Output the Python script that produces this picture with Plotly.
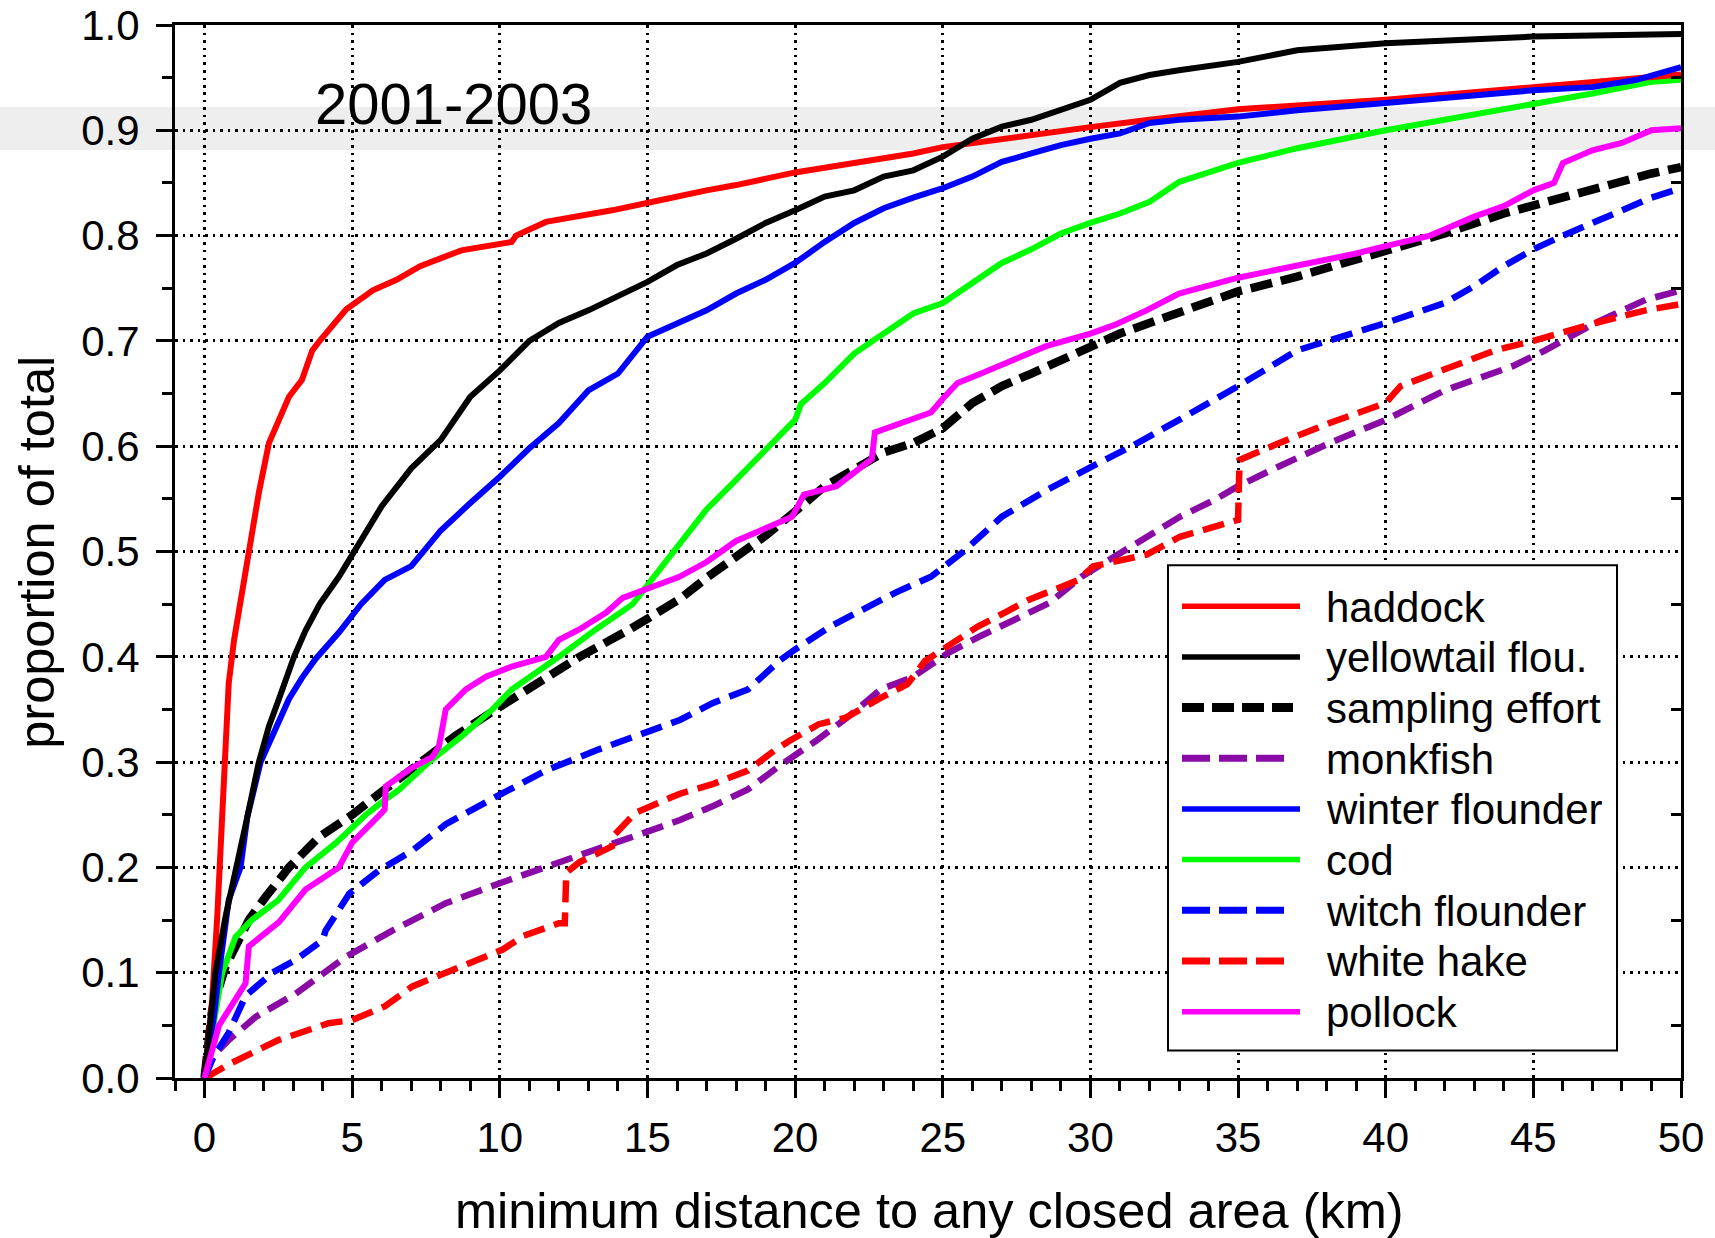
import plotly.graph_objects as go

# ---------------- data ----------------
haddock_x = [0, 0.26, 0.43, 0.54, 0.66, 0.82, 1.0, 1.22, 1.5, 1.84, 2.18, 2.58, 2.86, 3.3, 3.65, 3.9, 4.3, 4.8, 5.7, 6.5, 7.3, 8.7, 10.4, 10.55, 11.56, 13.8, 15.5, 16.1, 17, 18, 19, 20, 22, 24, 25, 26, 28, 30, 32, 35, 40, 45, 47, 50]
haddock_y = [0, 0.075, 0.153, 0.217, 0.305, 0.375, 0.416, 0.454, 0.505, 0.556, 0.603, 0.628, 0.647, 0.663, 0.691, 0.70, 0.714, 0.73, 0.748, 0.758, 0.771, 0.786, 0.794, 0.80, 0.813, 0.824, 0.834, 0.838, 0.843, 0.848, 0.854, 0.86, 0.869, 0.878, 0.884, 0.888, 0.896, 0.903, 0.910, 0.920, 0.929, 0.941, 0.946, 0.953]

yellowtail_x = [0, 0.2, 0.37, 0.71, 1.1, 1.45, 1.84, 2.18, 2.52, 3.03, 3.42, 3.9, 4.55, 5.1, 6, 7, 8, 9, 10, 11, 12, 13, 14, 15, 16, 17, 18, 19, 20, 21, 22, 23, 24, 25, 26, 27, 28, 29, 30, 31, 32, 33, 35, 37, 40, 45, 50]
yellowtail_y = [0, 0.059, 0.10, 0.153, 0.20, 0.248, 0.30, 0.334, 0.36, 0.40, 0.425, 0.45, 0.476, 0.502, 0.543, 0.579, 0.606, 0.647, 0.672, 0.70, 0.717, 0.729, 0.742, 0.756, 0.772, 0.783, 0.797, 0.812, 0.824, 0.837, 0.843, 0.856, 0.862, 0.875, 0.892, 0.9035, 0.91, 0.919, 0.929, 0.945, 0.9525, 0.957, 0.965, 0.976, 0.9826, 0.989, 0.9915]

sampling_x = [0, 0.26, 0.71, 1.5, 2.07, 2.86, 3.88, 5.0, 6.1, 7.27, 8.5, 9.86, 11.3, 12.7, 14.4, 16.1, 17, 18, 19, 20, 21, 22, 23, 24, 25, 26, 27, 28, 29, 30, 31, 32, 33, 35, 37, 40, 42, 44, 45, 47, 49, 50]
sampling_y = [0, 0.065, 0.106, 0.15, 0.172, 0.20, 0.229, 0.25, 0.274, 0.30, 0.325, 0.35, 0.376, 0.40, 0.426, 0.455, 0.475, 0.495, 0.515, 0.538, 0.562, 0.578, 0.594, 0.603, 0.617, 0.641, 0.657, 0.669, 0.682, 0.695, 0.707, 0.717, 0.727, 0.747, 0.761, 0.785, 0.802, 0.821, 0.829, 0.843, 0.859, 0.865]

monkfish_x = [0, 0.26, 0.82, 1.73, 3.08, 4.78, 6.36, 8.17, 10.0, 11.56, 13.25, 14.9, 16.1, 17.2, 18.4, 19.5, 20.7, 21.8, 22.9, 24.0, 25.2, 26.3, 27.4, 28.6, 29.7, 30.8, 32, 33.03, 34.2, 35, 36.4, 38.1, 40, 42, 44.3, 45.4, 47.1, 48.8, 50]
monkfish_y = [0, 0.02, 0.036, 0.058, 0.08, 0.115, 0.14, 0.166, 0.185, 0.201, 0.217, 0.233, 0.245, 0.258, 0.274, 0.297, 0.32, 0.343, 0.369, 0.381, 0.404, 0.42, 0.435, 0.451, 0.476, 0.495, 0.515, 0.533, 0.549, 0.562, 0.581, 0.603, 0.625, 0.653, 0.676, 0.691, 0.717, 0.739, 0.748]

winter_x = [0, 0.32, 0.49, 0.82, 1.22, 1.45, 1.9, 2.3, 2.86, 3.3, 3.76, 4.55, 5.3, 6.1, 7.0, 7.5, 8, 9, 10, 11, 12, 13, 14, 15, 16, 17, 18, 19, 20, 21, 22, 23, 24, 25, 26, 27, 28, 29, 30, 31, 32, 33, 35, 37, 40, 43, 45, 47, 48.5, 50]
winter_y = [0, 0.059, 0.10, 0.169, 0.20, 0.248, 0.30, 0.325, 0.36, 0.38, 0.398, 0.423, 0.45, 0.473, 0.486, 0.503, 0.52, 0.546, 0.571, 0.598, 0.622, 0.653, 0.669, 0.704, 0.717, 0.729, 0.745, 0.758, 0.774, 0.794, 0.812, 0.826, 0.836, 0.845, 0.856, 0.870, 0.878, 0.886, 0.892, 0.897, 0.907, 0.91, 0.913, 0.919, 0.926, 0.9335, 0.938, 0.941, 0.948, 0.96]

cod_x = [0, 0.37, 0.6, 1.05, 1.6, 2.5, 3.42, 4.44, 5.46, 6.1, 6.6, 7.6, 8.73, 9.75, 10.4, 12.0, 13.25, 14.5, 15.9, 17, 18, 19, 20, 20.2, 21, 22, 23, 24, 25, 26, 27, 28, 29, 30, 31, 32, 33, 35, 37, 40, 43, 45, 47, 49, 50]
cod_y = [0, 0.059, 0.10, 0.134, 0.15, 0.169, 0.20, 0.223, 0.25, 0.264, 0.274, 0.30, 0.325, 0.35, 0.369, 0.40, 0.426, 0.45, 0.50, 0.54, 0.568, 0.597, 0.625, 0.64, 0.66, 0.688, 0.707, 0.726, 0.736, 0.755, 0.774, 0.787, 0.802, 0.812, 0.821, 0.832, 0.851, 0.869, 0.883, 0.90, 0.915, 0.924, 0.935, 0.946, 0.948]

witch_x = [0, 0.3, 0.82, 1.39, 2.3, 3.08, 4.0, 4.1, 4.9, 5.9, 7.04, 8.17, 9.86, 11.56, 13.25, 14.9, 16.1, 17.2, 18.4, 19.5, 20.0, 21.2, 22.3, 23.4, 24.6, 25.7, 27.0, 28.5, 30.0, 31.4, 33.0, 35, 37, 38.5, 40, 42, 43, 44, 45, 46, 47, 48, 49, 50]
witch_y = [0, 0.02, 0.043, 0.078, 0.10, 0.112, 0.131, 0.14, 0.175, 0.197, 0.216, 0.241, 0.267, 0.292, 0.311, 0.327, 0.34, 0.356, 0.369, 0.397, 0.407, 0.429, 0.445, 0.461, 0.476, 0.50, 0.533, 0.558, 0.58, 0.60, 0.625, 0.657, 0.691, 0.704, 0.717, 0.736, 0.752, 0.771, 0.787, 0.80, 0.812, 0.823, 0.836, 0.845]

hake_x = [0, 0.15, 0.82, 2.5, 4.2, 5.0, 6.1, 7.04, 8.17, 9.64, 10.1, 10.8, 12.0, 12.2, 12.25, 12.7, 13.8, 13.85, 14.6, 15.85, 16.1, 17.2, 18.4, 19.3, 19.8, 20.8, 21.7, 22.9, 23.8, 24.4, 25.1, 26.2, 27.1, 27.9, 29.6, 30.1, 31.9, 33.03, 35, 35.05, 36.4, 38.1, 40, 40.5, 42, 43.7, 45, 47.1, 48.8, 50]
hake_y = [0, 0.002, 0.013, 0.036, 0.052, 0.055, 0.068, 0.087, 0.10, 0.116, 0.122, 0.135, 0.147, 0.147, 0.195, 0.205, 0.22, 0.23, 0.252, 0.267, 0.27, 0.279, 0.292, 0.311, 0.32, 0.336, 0.342, 0.361, 0.374, 0.396, 0.409, 0.429, 0.442, 0.454, 0.473, 0.486, 0.497, 0.514, 0.53, 0.587, 0.603, 0.622, 0.641, 0.657, 0.673, 0.691, 0.70, 0.717, 0.729, 0.735]

pollock_x = [0, 0.49, 1.39, 1.5, 2.52, 3.42, 4.55, 5.0, 5.9, 6.1, 6.14, 6.93, 7.72, 7.94, 8.17, 8.85, 9.53, 10.43, 11.56, 12.0, 12.69, 13.6, 14.16, 14.95, 16.08, 17, 18, 19.9, 20.3, 21.4, 22.6, 22.7, 24.6, 25.0, 25.5, 26.3, 27.4, 28.5, 30, 30.8, 31.9, 33, 35, 37, 39, 40, 41.5, 42, 43, 44, 45, 45.7, 46, 47, 48, 49, 50]
pollock_y = [0, 0.05, 0.09, 0.125, 0.148, 0.179, 0.20, 0.2235, 0.249, 0.255, 0.277, 0.293, 0.305, 0.315, 0.35, 0.369, 0.381, 0.391, 0.40, 0.416, 0.426, 0.442, 0.456, 0.464, 0.476, 0.49, 0.51, 0.533, 0.554, 0.562, 0.588, 0.613, 0.632, 0.645, 0.66, 0.669, 0.682, 0.695, 0.707, 0.715, 0.729, 0.745, 0.76, 0.771, 0.783, 0.79, 0.80, 0.806, 0.818, 0.828, 0.843, 0.85, 0.869, 0.881, 0.888, 0.90, 0.902]

x_ticks = [0, 5, 10, 15, 20, 25, 30, 35, 40, 45, 50]
y_ticks = [0.0, 0.1, 0.2, 0.3, 0.4, 0.5, 0.6, 0.7, 0.8, 0.9, 1.0]
legend_names = ["haddock", "yellowtail flou.", "sampling effort", "monkfish",
                "winter flounder", "cod", "witch flounder", "white hake", "pollock"]
period_label = "2001-2003"
x_title = "minimum distance to any closed area (km)"
y_title = "proportion of total"

# ---------------- styles ----------------
FONT = "Liberation Sans, Arial, sans-serif"
RED, BLACK, BLUE, GREEN, MAG, PURP = "#ff0000", "#000000", "#0000ff", "#00ff00", "#ff00ff", "#8a0aa6"
SOLID_W, DASH_W, SAMP_W = 6, 6.5, 8.5
DASH = "22px,10px"
SAMP_DASH = "22px,9px"

series = {
    "haddock": (haddock_x, haddock_y, RED, "solid", SOLID_W),
    "yellowtail flou.": (yellowtail_x, yellowtail_y, BLACK, "solid", SOLID_W),
    "sampling effort": (sampling_x, sampling_y, BLACK, SAMP_DASH, SAMP_W),
    "monkfish": (monkfish_x, monkfish_y, PURP, DASH, DASH_W),
    "winter flounder": (winter_x, winter_y, BLUE, "solid", SOLID_W),
    "cod": (cod_x, cod_y, GREEN, "solid", SOLID_W),
    "witch flounder": (witch_x, witch_y, BLUE, DASH, DASH_W),
    "white hake": (hake_x, hake_y, RED, DASH, DASH_W),
    "pollock": (pollock_x, pollock_y, MAG, "solid", SOLID_W),
}
draw_order = ["sampling effort", "monkfish", "white hake", "witch flounder", "cod",
              "haddock", "winter flounder", "yellowtail flou.", "pollock"]

fig = go.Figure()
for name in draw_order:
    xs, ys, col, dash, w = series[name]
    fig.add_trace(go.Scatter(x=xs, y=ys, mode="lines", name=name, showlegend=False,
                             line=dict(color=col, width=w, dash=dash)))
# invisible trace to carry right-side inward ticks
fig.add_trace(go.Scatter(x=[0], y=[0], yaxis="y2", mode="markers",
                         marker=dict(opacity=0), showlegend=False, hoverinfo="skip"))

# pixel geometry of plot area
W, H = 1715, 1238
PL, PR, PT, PB = 175, 1681, 25, 1078.5


def fx(px):
    return (px - PL) / (PR - PL)


def fy(py):
    return (PB - py) / (PB - PT)


shapes = []
# light grey band across the figure around 0.9
shapes.append(dict(type="rect", xref="paper", yref="paper", x0=fx(0), x1=fx(W),
                   y0=fy(150), y1=fy(107), fillcolor="#eeeeee", line=dict(width=0), layer="below"))
# legend box
shapes.append(dict(type="rect", xref="paper", yref="paper", x0=fx(1168), x1=fx(1617),
                   y0=fy(1051), y1=fy(565.5), fillcolor="white",
                   line=dict(color="black", width=2), layer="above"))
annotations = []
for i, name in enumerate(legend_names):
    xs, ys, col, dash, w = series[name]
    yc = 606.5 + 50.7 * i
    if dash == "solid":
        x1, dd, lw = 1300, "solid", 5.5
    elif name == "sampling effort":
        x1, dd, lw = 1293, "22px,8px", 9
    else:
        x1, dd, lw = 1285, "28px,9px", 7
    shapes.append(dict(type="line", xref="paper", yref="paper", x0=fx(1182), x1=fx(x1),
                       y0=fy(yc), y1=fy(yc), line=dict(color=col, width=lw, dash=dd), layer="above"))
    annotations.append(dict(xref="paper", yref="paper", x=fx(1324), y=fy(yc + 1), text=name,
                            showarrow=False, xanchor="left", yanchor="middle",
                            font=dict(family=FONT, size=42, color="black")))

annotations.append(dict(xref="paper", yref="paper", x=fx(453), y=fy(104), text=period_label,
                        showarrow=False, xanchor="center", yanchor="middle",
                        font=dict(family=FONT, size=58, color="black")))
annotations.append(dict(xref="paper", yref="paper", x=fx(929), y=fy(1211), text=x_title,
                        showarrow=False, xanchor="center", yanchor="middle",
                        font=dict(family=FONT, size=50.5, color="black")))
annotations.append(dict(xref="paper", yref="paper", x=fx(37), y=fy(553), text=y_title,
                        showarrow=False, xanchor="center", yanchor="middle", textangle=-90,
                        font=dict(family=FONT, size=50.5, color="black")))

fig.update_layout(
    width=W, height=H,
    margin=dict(l=PL, r=W - PR, t=PT, b=H - PB, pad=0, autoexpand=False),
    paper_bgcolor="white", plot_bgcolor="rgba(0,0,0,0)",
    showlegend=False,
    shapes=shapes, annotations=annotations,
    font=dict(family=FONT, color="black"),
    xaxis=dict(range=[-1, 50], tickmode="array", tickvals=x_ticks,
               ticktext=[str(v) for v in x_ticks], automargin=False,
               showline=True, linecolor="black", linewidth=3, mirror=True,
               ticks="outside", ticklen=17, tickwidth=2.5, tickcolor="black",
               minor=dict(tickmode="linear", tick0=0, dtick=1, ticks="outside",
                          ticklen=10, tickwidth=2.5, tickcolor="black", showgrid=False),
               showgrid=True, gridcolor="black", gridwidth=2.5, griddash="2.5px,5px",
               zeroline=False, tickfont=dict(family=FONT, size=42, color="black"),
               ticklabelstandoff=4),
    yaxis=dict(range=[0, 1], tickmode="array", tickvals=y_ticks,
               ticktext=[f"{v:.1f}" for v in y_ticks], automargin=False,
               showline=True, linecolor="black", linewidth=3, mirror=True,
               ticks="outside", ticklen=16, tickwidth=2.5, tickcolor="black",
               minor=dict(tickmode="linear", tick0=0, dtick=0.05, ticks="outside",
                          ticklen=10, tickwidth=2.5, tickcolor="black", showgrid=False),
               showgrid=True, gridcolor="black", gridwidth=2.5, griddash="2.5px,5px",
               zeroline=False, tickfont=dict(family=FONT, size=42, color="black"),
               ticklabelstandoff=8),
    yaxis2=dict(range=[0, 1], overlaying="y", side="right", automargin=False,
                tickmode="array", tickvals=[0.05, 0.15, 0.25, 0.35, 0.45, 0.55, 0.65, 0.75, 0.85, 0.95],
                ticks="inside", ticklen=10, tickwidth=2.5, tickcolor="black",
                showticklabels=False, showgrid=False, zeroline=False, showline=False),
)

fig.write_html("out.html")
